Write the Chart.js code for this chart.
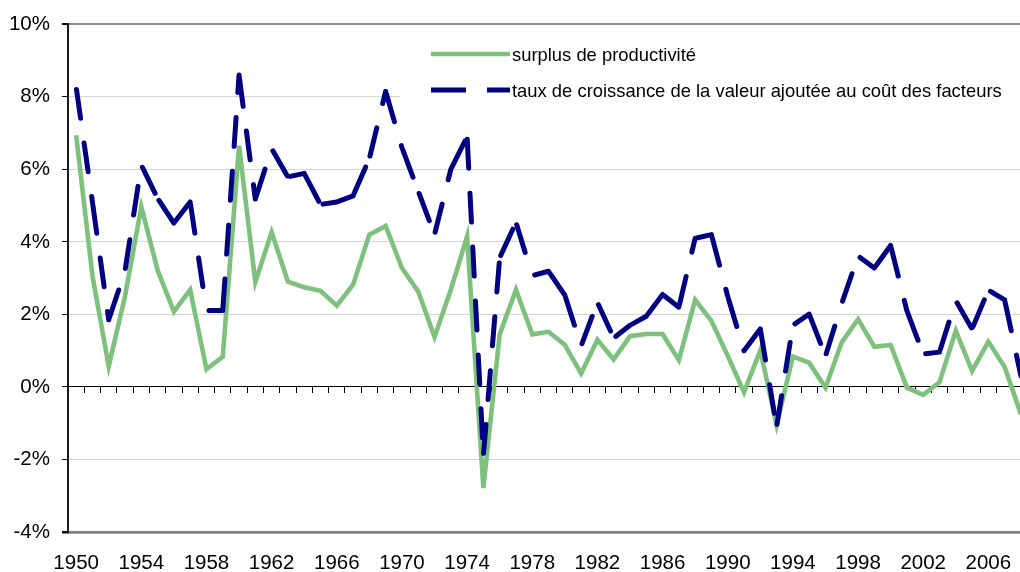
<!DOCTYPE html>
<html>
<head>
<meta charset="utf-8">
<script src="https://cdn.jsdelivr.net/npm/chart.js@4/dist/chart.umd.min.js"></script>
<style>
html, body { margin: 0; padding: 0; background: #fff; overflow: hidden; }
#wrap { position: absolute; left: 0; top: 0; width: 1040px; height: 572px; }
</style>
</head>
<body>
<div id="wrap"><canvas id="c" width="1040" height="572"></canvas></div>
<script>
// ---- data ----
const years = [];
for (let y = 1950; y <= 2008; y++) years.push(String(y));

const surplusProductivite = [
  6.94, 3.07, 0.57, 2.50, 4.97, 3.22, 2.08, 2.68, 0.49, 0.83,
  6.65, 2.89, 4.27, 2.90, 2.75, 2.65, 2.24, 2.82, 4.20, 4.44,
  3.28, 2.63, 1.38, 2.68, 4.15, -2.79, 1.45, 2.68, 1.45, 1.52,
  1.16, 0.37, 1.30, 0.76, 1.40, 1.46, 1.46, 0.74, 2.40, 1.82,
  0.86, -0.15, 1.01, -1.05, 0.84, 0.67, -0.02, 1.23, 1.87, 1.11,
  1.16, -0.02, -0.22, 0.13, 1.55, 0.44, 1.25, 0.55, -0.75
];

const tauxCroissanceVA = [
  8.27, 5.10, 1.85, 3.20, 6.12, 5.20, 4.52, 5.10, 2.11, 2.11,
  8.60, 5.18, 6.57, 5.79, 5.89, 5.03, 5.10, 5.27, 6.30, 8.15,
  6.60, 5.40, 4.20, 6.00, 6.90, -1.90, 3.56, 4.54, 3.07, 3.19,
  2.53, 1.13, 2.33, 1.35, 1.70, 1.95, 2.55, 2.20, 4.10, 4.20,
  2.50, 1.00, 1.60, -1.10, 1.70, 2.01, 0.85, 2.30, 3.61, 3.28,
  3.90, 2.10, 0.91, 0.96, 2.38, 1.60, 2.67, 2.40, 0.30
];

const seriesLabels = [
  'surplus de productivité',
  'taux de croissance de la valeur ajoutée au coût des facteurs'
];

const yTicks = [-4, -2, 0, 2, 4, 6, 8, 10];

// ---- chart ----
const FONT = '"Liberation Sans", Arial, sans-serif';
const GREEN = '#7dc17d';
const NAVY = '#000080';

const insideLegend = {
  id: 'insideLegend',
  beforeDatasetsDraw(chart) {
    const ctx = chart.ctx;
    const ca = chart.chartArea;
    ctx.save();
    ctx.fillStyle = '#ffffff';
    ctx.fillRect(400, ca.top + 8, ca.right - 400, 84);
    chart.data.datasets.forEach((ds, i) => {
      const y = 54 + i * 36;
      ctx.strokeStyle = ds.borderColor;
      ctx.lineWidth = ds.borderWidth;
      ctx.setLineDash(i === 1 ? [35, 21] : []);
      ctx.lineCap = 'butt';
      ctx.beginPath();
      ctx.moveTo(431, y);
      ctx.lineTo(510, y);
      ctx.stroke();
      ctx.setLineDash([]);
      ctx.fillStyle = '#000';
      ctx.font = '18.4px ' + FONT;
      ctx.textBaseline = 'alphabetic';
      ctx.textAlign = 'left';
      ctx.fillText(ds.label, 512, y + 6.6);
    });
    ctx.restore();
  }
};

new Chart(document.getElementById('c'), {
  type: 'line',
  data: {
    labels: years,
    datasets: [
      {
        label: seriesLabels[0],
        data: surplusProductivite,
        borderColor: GREEN,
        borderWidth: 4.6,
        pointRadius: 0,
        tension: 0,
        fill: false,
        order: 1
      },
      {
        label: seriesLabels[1],
        data: tauxCroissanceVA,
        borderColor: NAVY,
        borderWidth: 5,
        borderCapStyle: 'round',
        borderJoinStyle: 'round',
        borderDash: [29, 25],
        borderDashOffset: -2.5,
        // the dash pattern restarts at every data point, as in the original
        segment: {
          borderDashOffset: (c) => (c.p0DataIndex % 2 ? -2.5 : -2.5001)
        },
        pointRadius: 0,
        tension: 0,
        fill: false,
        order: 0
      }
    ]
  },
  options: {
    responsive: false,
    animation: false,
    devicePixelRatio: 1,
    layout: { padding: { left: 0, top: 21, right: 7.35, bottom: 0 } },
    plugins: { legend: { display: false }, tooltip: { enabled: false } },
    scales: {
      x: {
        type: 'category',
        offset: true,
        grid: { display: true, drawOnChartArea: false, drawTicks: false, offset: true },
        border: { display: true, color: '#808080', width: 2.5 },
        ticks: {
          autoSkip: false,
          maxRotation: 0,
          minRotation: 0,
          padding: 19,
          color: '#000',
          font: { family: FONT, size: 20.5 },
          callback: function (v, i) { return i % 4 === 0 ? this.getLabelForValue(v) : ''; }
        },
        afterFit: (s) => { s.height = 40; }
      },
      x0: {
        type: 'category',
        position: { y: 0 },
        offset: true,
        grid: { display: true, drawOnChartArea: false, drawTicks: true, tickLength: 6, offset: true, color: '#000', tickColor: '#000', lineWidth: 1, tickWidth: 1 },
        border: { display: true, color: '#000', width: 1 },
        ticks: { display: false, autoSkip: false }
      },
      y: {
        min: -4,
        max: 10,
        afterBuildTicks: (s) => { s.ticks = yTicks.map(v => ({ value: v })); },
        grid: {
          drawTicks: true,
          tickLength: 6,
          tickColor: '#000',
          color: (c) => {
            const v = c.tick ? c.tick.value : null;
            if (v === 10) return '#8c8c8c';
            if (v === -4) return '#808080';
            if (v === 0) return '#000';
            return '#d4d4d4';
          },
          lineWidth: (c) => {
            const v = c.tick ? c.tick.value : null;
            if (v === 10) return 2;
            if (v === -4) return 2.5;
            return 1;
          }
        },
        border: { display: true, color: '#1a1a1a', width: 2 },
        ticks: {
          padding: 12,
          color: '#000',
          font: { family: FONT, size: 20.5 },
          callback: (v) => v + '%'
        },
        afterFit: (s) => { s.width = 68; }
      }
    }
  },
  plugins: [insideLegend]
});
</script>
</body>
</html>
